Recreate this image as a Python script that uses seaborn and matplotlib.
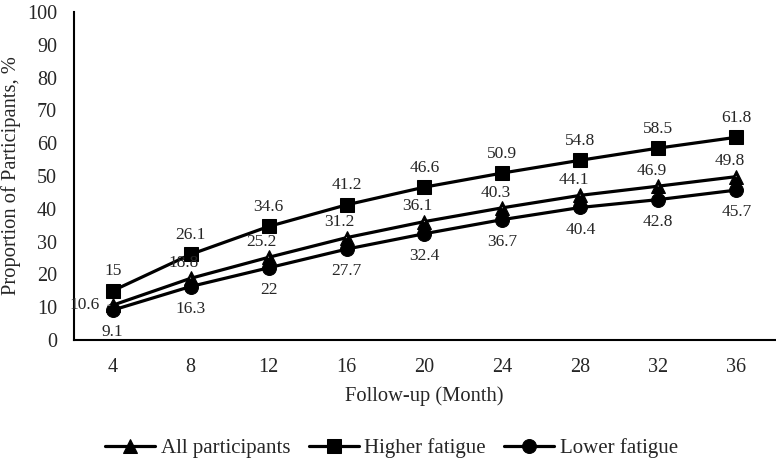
import numpy as np
import pandas as pd
import seaborn as sns
import matplotlib.pyplot as plt

months = [4, 8, 12, 16, 20, 24, 28, 32, 36]
all_participants = [10.6, 18.8, 25.2, 31.2, 36.1, 40.3, 44.1, 46.9, 49.8]
higher_fatigue = [15, 26.1, 34.6, 41.2, 46.6, 50.9, 54.8, 58.5, 61.8]
lower_fatigue = [9.1, 16.3, 22, 27.7, 32.4, 36.7, 40.4, 42.8, 45.7]
series_names = ['All participants', 'Higher fatigue', 'Lower fatigue']

df = pd.DataFrame({
    'month': months * 3,
    'value': all_participants + higher_fatigue + lower_fatigue,
    'group': np.repeat(series_names, len(months)),
})

sns.set_style('white')
plt.rcParams['font.family'] = ['Liberation Serif', 'DejaVu Serif']

fig = plt.figure(figsize=(7.76, 4.61), dpi=100)
ax = fig.add_axes([0.095, 0.2625, 0.904, 0.7115])

sns.lineplot(data=df, x='month', y='value', hue='group', style='group',
             markers={'All participants': '^', 'Higher fatigue': 's', 'Lower fatigue': 'o'},
             dashes=False, palette=['black'] * 3, linewidth=2.3,
             markersize=10, markeredgecolor='black', ax=ax, legend=True)

# data labels
for x, y in zip(months, higher_fatigue):
    ax.annotate(f'{y:g}', (x, y), xytext=(0, 14), textcoords='offset points',
                ha='center', va='center', fontsize=12.5)
for x, y in zip(months, lower_fatigue):
    ax.annotate(f'{y:g}', (x, y), xytext=(0, -16), textcoords='offset points',
                ha='center', va='center', fontsize=12.5)
for i, (x, y) in enumerate(zip(months, all_participants)):
    off = (-20, 0) if i == 0 else (-5, 11)
    ax.annotate(f'{y:g}', (x, y), xytext=off, textcoords='offset points',
                ha='center', va='center', fontsize=12.5,
                arrowprops=dict(arrowstyle='-', color='#999999', lw=0.8,
                                shrinkA=3, shrinkB=2))

ax.set_xlim(2, 38)
ax.set_ylim(0, 100)
ax.set_xticks(months)
ax.set_yticks(range(0, 101, 10))
ax.tick_params(axis='both', labelsize=14.5, length=0)
ax.tick_params(axis='y', pad=12)
ax.tick_params(axis='x', pad=13)
ax.set_xlabel('Follow-up (Month)', fontsize=14.8, labelpad=7)
ax.set_ylabel('Proportion of Participants, %', fontsize=14.8, labelpad=4)
sns.despine(ax=ax)
for s in ['left', 'bottom']:
    ax.spines[s].set_color('black')
    ax.spines[s].set_linewidth(1.5)

handles, labels = ax.get_legend_handles_labels()
ax.legend_.remove()
fig.legend(handles, labels, loc='lower center', bbox_to_anchor=(0.5045, -0.012),
           borderaxespad=0.0, ncol=3, frameon=False, fontsize=15,
           handlelength=2.4, columnspacing=0.87, handletextpad=0.27)

fig.savefig('out.png', dpi=100)
